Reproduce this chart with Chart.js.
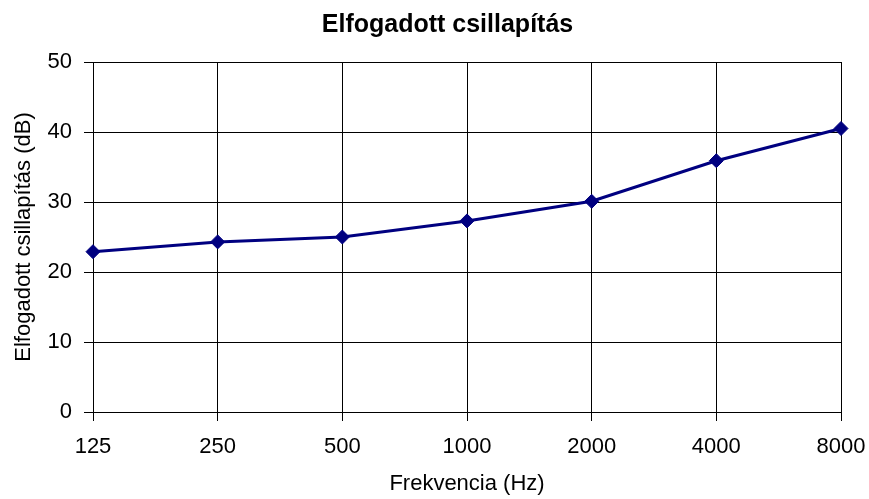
<!DOCTYPE html>
<html>
<head>
<meta charset="utf-8">
<script src="https://cdn.jsdelivr.net/npm/chart.js@4/dist/chart.umd.min.js"></script>
<style>
  html, body { margin: 0; padding: 0; background: #fff; }
  #wrap { width: 869px; height: 499px; }
</style>
</head>
<body>
<div id="wrap"><canvas id="chart" width="869" height="499"></canvas></div>
<script>
const frequencies = ['125', '250', '500', '1000', '2000', '4000', '8000'];
const attenuation = [22.9, 24.3, 25.0, 27.3, 30.1, 35.9, 40.5];
const yTicks = [0, 10, 20, 30, 40, 50];

const chartTitle = 'Elfogadott csillapítás';
const xTitle = 'Frekvencia (Hz)';
const yTitle = 'Elfogadott csillapítás (dB)';

const FONT = '"Liberation Sans", Arial, sans-serif';

// title is centred a bit left of the plot centre, so draw it by hand
const titlePlugin = {
  id: 'topTitle',
  afterDraw(chart) {
    const ctx = chart.ctx;
    ctx.save();
    ctx.font = 'bold 25px ' + FONT;
    ctx.fillStyle = '#000';
    ctx.textAlign = 'center';
    ctx.textBaseline = 'alphabetic';
    ctx.fillText(chartTitle, 447.5, 32);
    ctx.restore();
  }
};

const ctx = document.getElementById('chart').getContext('2d');
const chart = new Chart(ctx, {
  type: 'line',
  data: {
    labels: frequencies,
    datasets: [{
      label: yTitle,
      data: attenuation,
      borderColor: '#000080',
      backgroundColor: '#000080',
      borderWidth: 3,
      pointStyle: 'rectRot',
      pointRadius: 7,
      pointBorderWidth: 1,
      tension: 0
    }]
  },
  options: {
    responsive: false,
    animation: false,
    layout: { padding: { top: 62, right: 28, left: 9, bottom: 0 } },
    plugins: {
      legend: { display: false },
      tooltip: { enabled: false }
    },
    scales: {
      x: {
        offset: false,
        grid: { color: '#000', lineWidth: 1, tickLength: 9, tickColor: '#000' },
        border: { color: '#000', width: 1 },
        ticks: { color: '#000', font: { family: FONT, size: 22 }, padding: 13, maxRotation: 0 },
        title: { display: true, text: xTitle, color: '#000', font: { family: FONT, size: 22, lineHeight: 1 } },
        afterFit: (scale) => {
          scale.height = 87;
          scale.paddingLeft = 0;
          scale.paddingRight = 0;
        }
      },
      y: {
        min: 0,
        max: 50,
        afterBuildTicks: (scale) => { scale.ticks = yTicks.map(v => ({ value: v })); },
        grid: { color: '#000', lineWidth: 1, tickLength: 9, tickColor: '#000' },
        border: { color: '#000', width: 1 },
        ticks: { color: '#000', font: { family: FONT, size: 22 }, padding: 12 },
        title: { display: true, text: yTitle, color: '#000', font: { family: FONT, size: 22, lineHeight: 1 } },
        afterFit: (scale) => { scale.width = 84; }
      }
    }
  },
  plugins: [titlePlugin]
});
</script>
</body>
</html>
